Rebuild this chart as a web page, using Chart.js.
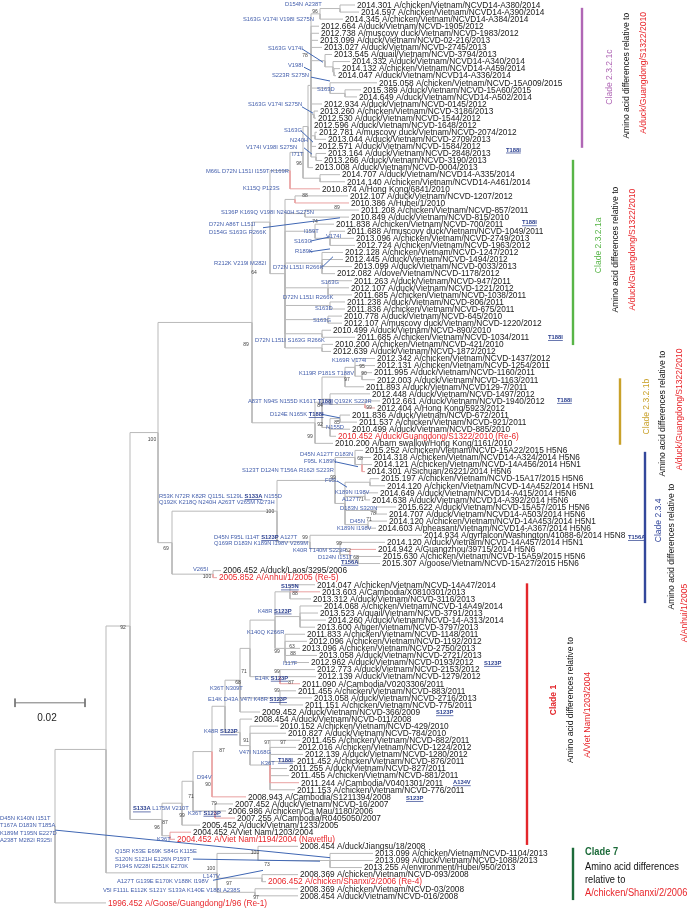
<!DOCTYPE html>
<html><head><meta charset="utf-8">
<script src="https://cdn.jsdelivr.net/npm/chart.js@4"></script>
<style>html,body{margin:0;padding:0;background:#fff}#wrap{width:688px;height:908px}</style>
</head><body><div id="wrap"><canvas id="c" width="688" height="908"></canvas></div>
<script>
// ---------------- DATA ----------------
// Leaf (strain) labels, top to bottom
const leafNames = [
"2014.301 A/chicken/Vietnam/NCVD14-A380/2014","2014.597 A/chicken/Vietnam/NCVD14-A390/2014","2014.345 A/chicken/Vietnam/NCVD14-A384/2014",
"2012.664 A/duck/Vietnam/NCVD-1905/2012","2012.738 A/muscovy duck/Vietnam/NCVD-1983/2012","2013.099 A/duck/Vietnam/NCVD-02-216/2013",
"2013.027 A/duck/Vietnam/NCVD-2745/2013","2013.545 A/quail/Vietnam/NCVD-3794/2013","2014.332 A/duck/Vietnam/NCVD14-A340/2014",
"2014.132 A/chicken/Vietnam/NCVD14-A459/2014","2014.047 A/duck/Vietnam/NCVD14-A336/2014","2015.058 A/chicken/Vietnam/NCVD-15A009/2015",
"2015.389 A/duck/Vietnam/NCVD-15A60/2015","2014.649 A/duck/Vietnam/NCVD14-A502/2014","2012.934 A/duck/Vietnam/NCVD-0145/2012",
"2013.260 A/chicken/Vietnam/NCVD-3186/2013","2012.530 A/duck/Vietnam/NCVD-1544/2012","2012.596 A/duck/Vietnam/NCVD-1648/2012",
"2012.781 A/muscovy duck/Vietnam/NCVD-2074/2012","2013.044 A/duck/Vietnam/NCVD-2709/2013","2012.571 A/duck/Vietnam/NCVD-1584/2012",
"2013.164 A/duck/Vietnam/NCVD-2848/2013","2013.266 A/duck/Vietnam/NCVD-3190/2013","2013.008 A/duck/Vietnam/NCVD-0004/2013",
"2014.707 A/duck/Vietnam/NCVD14-A335/2014","2014.140 A/chicken/Vietnam/NCVD14-A461/2014","2010.874 A/Hong Kong/6841/2010",
"2012.107 A/duck/Vietnam/NCVD-1207/2012","2010.386 A/Hubei/1/2010","2011.208 A/chicken/Vietnam/NCVD-857/2011",
"2010.849 A/duck/Vietnam/NCVD-815/2010","2011.838 A/chicken/Vietnam/NCVD-700/2011","2011.688 A/muscovy duck/Vietnam/NCVD-1049/2011",
"2013.096 A/chicken/Vietnam/NCVD-2749/2013","2012.724 A/chicken/Vietnam/NCVD-1963/2012","2012.128 A/chicken/Vietnam/NCVD-1247/2012",
"2012.445 A/duck/Vietnam/NCVD-1494/2012","2013.099 A/duck/Vietnam/NCVD-0033/2013","2012.082 A/dove/Vietnam/NCVD-1178/2012",
"2011.263 A/duck/Vietnam/NCVD-947/2011","2012.107 A/duck/Vietnam/NCVD-1221/2012","2011.685 A/chicken/Vietnam/NCVD-1038/2011",
"2011.238 A/duck/Vietnam/NCVD-806/2011","2011.836 A/chicken/Vietnam/NCVD-675/2011","2010.778 A/duck/Vietnam/NCVD-645/2010",
"2012.107 A/muscovy duck/Vietnam/NCVD-1220/2012","2010.499 A/duck/Vietnam/NCVD-890/2010","2011.685 A/chicken/Vietnam/NCVD-1034/2011",
"2010.200 A/chicken/Vietnam/NCVD-421/2010","2012.639 A/duck/Vietnam/NCVD-1872/2012","2012.342 A/chicken/Vietnam/NCVD-1437/2012",
"2012.131 A/chicken/Vietnam/NCVD-1254/2011","2011.995 A/duck/Vietnam/NCVD-1160/2011","2012.003 A/duck/Vietnam/NCVD-1163/2011",
"2011.893 A/duck/Vietnam/NCVD129-7/2011","2012.448 A/duck/Vietnam/NCVD-1497/2012","2012.661 A/duck/Vietnam/NCVD-1940/2012",
"2012.404 A/Hong Kong/5923/2012","2011.836 A/duck/Vietnam/NCVD-672/2011","2011.537 A/chicken/Vietnam/NCVD-921/2011",
"2010.499 A/duck/Vietnam/NCVD-885/2010","2010.452 A/duck/Guangdong/S1322/2010 (Re-6)","2010.200 A/barn swallow/Hong Kong/1161/2010",
"2015.252 A/chicken/Vietnam/NCVD-15A22/2015 H5N6","2014.318 A/chicken/Vietnam/NCVD14-A324/2014 H5N6","2014.121 A/chicken/Vietnam/NCVD-14A456/2014 H5N1",
"2014.301 A/Sichuan/26221/2014 H5N6","2015.197 A/chicken/Vietnam/NCVD-15A17/2015 H5N6","2014.120 A/chicken/Vietnam/NCVD-14A452/2014 H5N1",
"2014.649 A/duck/Vietnam/NCVD14-A415/2014 H5N6","2014.638 A/duck/Vietnam/NCVD14-A392/2014 H5N6","2015.622 A/duck/Vietnam/NCVD-15A57/2015 H5N6",
"2014.707 A/duck/Vietnam/NCVD14-A503/2014 H5N6","2014.120 A/chicken/Vietnam/NCVD-14A453/2014 H5N1","2014.603 A/pheasant/Vietnam/NCVD14-A367/2014 H5N6",
"2014.934 A/gyrfalcon/Washington/41088-6/2014 H5N8","2014.120 A/duck/Vietnam/NCVD-14A457/2014 H5N1","2014.942 A/Guangzhou/39715/2014 H5N6",
"2015.630 A/chicken/Vietnam/NCVD-15A59/2015 H5N6","2015.307 A/goose/Vietnam/NCVD-15A27/2015 H5N6","2006.452 A/duck/Laos/3295/2006",
"2005.852 A/Anhui/1/2005 (Re-5)","2014.047 A/chicken/Vietnam/NCVD-14A47/2014","2013.603 A/Cambodia/X0810301/2013",
"2013.312 A/duck/Vietnam/NCVD-3116/2013","2014.068 A/chicken/Vietnam/NCVD-14A49/2014","2013.523 A/quail/Vietnam/NCVD-3791/2013",
"2014.260 A/duck/Vietnam/NCVD-14-A313/2014","2013.600 A/tiger/Vietnam/NCVD-3797/2013","2011.833 A/chicken/Vietnam/NCVD-1148/2011",
"2012.096 A/chicken/Vietnam/NCVD-1192/2012","2013.096 A/chicken/Vietnam/NCVD-2750/2013","2013.058 A/duck/Vietnam/NCVD-2721/2013",
"2012.962 A/duck/Vietnam/NCVD-0193/2012","2012.773 A/duck/Vietnam/NCVD-2153/2012","2012.139 A/duck/Vietnam/NCVD-1279/2012",
"2011.090 A/Cambodia/V0203306/2011","2011.455 A/chicken/Vietnam/NCVD-883/2011","2013.058 A/duck/Vietnam/NCVD-2716/2013",
"2011.151 A/chicken/Vietnam/NCVD-775/2011","2009.452 A/duck/Vietnam/NCVD-366/2009","2008.454 A/duck/Vietnam/NCVD-011/2008",
"2010.152 A/chicken/Vietnam/NCVD-429/2010","2010.827 A/duck/Vietnam/NCVD-784/2010","2011.455 A/chicken/Vietnam/NCVD-882/2011",
"2012.016 A/chicken/Vietnam/NCVD-1224/2012","2012.139 A/duck/Vietnam/NCVD-1280/2012","2011.452 A/chicken/Vietnam/NCVD-876/2011",
"2011.255 A/duck/Vietnam/NCVD-827/2011","2011.455 A/chicken/Vietnam/NCVD-881/2011","2011.244 A/Cambodia/V0401301/2011",
"2011.153 A/chicken/Vietnam/NCVD-776/2011","2008.943 A/Cambodia/S1211394/2008","2007.452 A/duck/Vietnam/NCVD-16/2007",
"2006.986 A/chicken/Ca Mau/1180/2006","2007.255 A/Cambodia/R0405050/2007","2005.452 A/duck/Vietnam/1233/2005",
"2004.452 A/Viet Nam/1203/2004","2004.452 A/Viet Nam/1194/2004 (Navetflu)","2008.454 A/duck/Jiangsu/18/2008",
"2013.099 A/chicken/Vietnam/NCVD-1104/2013","2013.099 A/duck/Vietnam/NCVD-1088/2013","2013.255 A/environment/Hubei/950/2013",
"2008.369 A/chicken/Vietnam/NCVD-093/2008","2006.452 A/chicken/Shanxi/2/2006 (Re-4)","2008.369 A/chicken/Vietnam/NCVD-03/2008",
"2008.454 A/duck/Vietnam/NCVD-016/2008","1996.452 A/Goose/Guangdong/1/96 (Re-1)"
];
// Tip depth of each leaf (tree units; scale bar 0.02 = 70 units)
const leafDepth = [300,304,288,264,264,263,267,277,295,285,281,322,306,302,267,263,261,257,262,271,261,271,267,258,285,290,265,
293,294,304,294,279,290,299,300,288,288,297,280,297,294,297,290,290,287,287,276,300,278,276,
320,320,317,320,309,315,325,320,295,302,295,281,278,
308,316,317,310,324,330,323,315,341,332,332,321,367,330,321,326,325,166,162,
260,265,256,267,263,271,260,250,252,245,262,254,260,261,245,241,257,248,205,197,223,231,245,241,248,240,232,234,244,240,191,178,171,180,145,136,120,
243,318,318,307,243,211,243,243,51];
const leafParent = ["c3b","c3b","c3","c2","c2","c2","c2","c4","c5","c6","c6","c7","c8","c8","c2","c9","c9","c2","c10","c10","c2","c11","c11","c1","c12","c12","NcHK",
"a1","a1","a2","a2","a3","a4","a4","a4","a5","a5","a5","a5","a6","a6","a6","a7","a7","a8","a8","a9","a9","a10","a10",
"b3","b3","b4","b4","b2","b5","b6","b6","b8","b8","b7","b7","Nb",
"d1","d2","d2","d2","d4","d4","d5","d5","d6","d6","d7","d7","N234b","d8","d9","d10","d10","NLA","NLA",
"e8","e8","e8","e9","e9","e9","e9","e10","e10","e10","e10","e10","e11","e11","e11","e12","e12","e12","e5","e13","e14","e14",
"e15","e15","e15","e15","e15","e15","e15","e15","e3","e16","e16","e16","e1","e17","e17",
"f1","f2","f2","f2","f3","f3","f4","f4","R"];
// Internal nodes
const nodeId =     ["R","A","B","N23","N2321","Nca","NcHK","Nc","c1","c2","c3","c3b","c4","c5","c6","c7","c8","c9","c10","c11","c12",
"Na","a1","a2","a3","a4","a5","a6","a7","a8","a9","a10","Nb","b1","b2","b3","b4","b5","b6","b7","b8",
"N234all","N234","N234a","d1","d2","d3","d4","d5","d6","d7","N234b","d8","d9","d10","NLA",
"NC1","e1","e2","e3","e4","e5","e6","e7","e8","e9","e10","e11","e12","e13","e14","e15","e16","e17","NC7","f1","f2","f3","f4"];
const nodeParent = ["","R","A","B","N23","N2321","Nca","NcHK","Nc","c1","c2","c3","c2","c4","c5","c2","c7","c2","c2","c2","Nc",
"Nca","Na","Na","Na","a3","Na","Na","Na","Na","Na","Na","N2321","Nb","b1","b2","b3","b1","b5","b1","b7",
"N23","N234all","N234","N234a","d1","N234a","d3","d3","d3","d3","N234","N234b","d8","d9","N234all",
"B","NC1","e1","e2","e3","e4","e5","e6","e7","e7","e7","e6","e5","e4","e13","e14","e2","NC1","A","NC7","f1","NC7","NC7"];
const nodeDepth = [0,51,75,103,197,215,235,248,253,256,265,285,270,278,279,275,290,259,260,261,265,
230,240,250,260,275,267,273,275,273,267,267,260,267,290,300,307,275,310,275,285,
117,222,280,300,307,290,315,310,321,313,255,285,295,303,158,
107,127,138,157,170,185,195,220,235,245,230,225,225,185,195,215,160,115,162,203,275,207,200];
// Human isolates (pink branches) and reference strains (red labels)
const humanLeaves = [26,28,57,66,77,81,83,96,110,112,115,117,118];
const refLeaves = [61,81,118,124,127];

// Amino acid substitution annotations (x in tree units, y in leaf rows); "_" marks underlined residues
const mutText = ["D154N A238T","S163G V174I V198I S275N","S163G V174I","V198I","S223R S275N","S163D","S163G V174I S275N","S163G","N240H",
"V174I V198I S275N","I71T","_T188I","M66L D72N L151I I159T K169R","K115Q P123S","S136P K169Q V198I N240H S275N","D72N A86T L151I",
"D154G S163G R266K","I159T","V174I","S163G","_T188I","R189K","R212K V219I M282I","D72N L151I R266K","S163G","D72N L151I R266K","S163D",
"S163G","D72N L151I S163G R266K","_T188I","K169R V174I","K119R P181S T188V","A83T N94S N155D K161T _T188I Q192K S223R","_T188I",
"D124E N165K _T188I","N155D","D45N A127T D183N","F95L K189N","S123T D124N T156A R162I S223R","F95L","K189N I198V",
"R53K N72R K82R Q115L S129L _S133A N155D","Q192K K218Q N240H A263T V265M N273H","A127T","D183N S320N","D45N","K189N I198V",
"D45N F95L I114T _S123P A127T","Q169R D183N K189N I198V V269M","K40R T140M S223R","D124N I151T","_T156A","_T156A","V265I","_S155N",
"K48R _S123P","K140Q K266R","I117F","_S123P","E14K _S123P","K36T N309T","E14K D43A V47I K48R _S123P","_S123P","K48R _S123P",
"V47I N168G","K36T","_T188I","D94V","_A134V","_S123P","_S133A L175M V210T","K36T _S123P","K36T","D45N K140N I151T","T167A D183N T185A",
"K189M T195N E227D","A238T M282I R325I","Q15R K53E E69K S84G K115E","S120N S121H E126N P159T","P194S M228I E251K E270K","L147V",
"A127T G139E E170K V188K I198V","V5I F111L E112K S121Y S133A K140E V188I A238S"];
const mutX = [230,188,213,233,217,262,193,229,235,191,237,451,151,188,166,154,154,249,271,239,467,240,159,218,266,228,260,258,200,493,
277,244,193,502,215,271,245,249,187,270,280,104,104,287,285,295,282,159,159,238,263,286,573,138,226,203,192,228,429,200,155,153,381,149,
184,206,223,142,398,351,78,133,102,-55,-55,-55,-55,60,60,60,148,62,48];
const mutRow = [-0.1,2.1,6.2,8.6,10.0,11.9,14.1,17.8,19.1,20.2,21.2,20.5,23.6,26.0,29.4,31.0,32.1,32.0,32.7,33.4,30.8,34.9,36.6,37.1,39.2,
41.3,42.9,44.6,47.5,47.0,50.2,52.1,56.0,55.9,57.9,59.7,63.5,64.6,65.8,67.3,69.0,69.5,70.4,69.9,71.2,73.0,74.0,75.3,76.2,77.2,78.1,78.8,
75.3,79.8,82.3,85.7,88.8,93.1,93.1,95.2,96.6,98.2,100.1,102.8,105.7,107.2,106.8,109.2,110.0,112.2,113.7,114.3,118.0,115.0,116.1,117.1,
118.2,119.7,120.8,121.9,123.2,123.9,125.2];
// Bootstrap support values (label centres)
const bootText = ["96","78","96","88","89","74","64","89","95","90","97","84","99","85","92","99","100","68","99","71","100","78","71","99",
"99","62","68","69","100","88","92","63","99","88","71","99","87","68","99","91","97","97","87","90","71","79","99","87","96","100","100",
"73","97","97"];
const bootX = [260,250,244,250,282,260,199,191,307,309,292,265,314,282,265,255,97,305,278,306,215,318,314,250,284,293,301,111,152,240,68,
237,222,238,189,222,236,183,222,191,212,228,167,153,136,159,127,110,102,200,156,212,174,201];
const bootRow = [1.0,7.2,22.4,27.0,28.6,30.7,37.8,48.1,51.2,52.1,53.0,56.7,56.9,59.0,59.4,61.0,61.5,64.1,66.8,69.9,71.7,72.0,72.8,75.3,
76.2,77.2,78.1,76.9,80.9,83.3,88.0,90.8,91.5,91.8,94.3,94.3,95.9,95.9,97.0,104.1,104.4,104.4,105.4,110.2,111.9,113.0,114.6,115.7,116.4,
119.9,122.1,121.6,124.3,126.2];
// Call-out lines from substitution labels to branches [x1,row1,x2,row2]
const calloutX1 = [247,249,256,247,246,249,208,255,255,267,267,280,282,0,138,158];
const calloutY1 = [6.2,8.8,10.2,14.4,17.8,20.2,31.5,33.4,34.9,37.1,57.9,64.6,67.3,116.7,120.8,123.8];
const calloutX2 = [268,256,275,258,258,257,285,275,275,278,285,303,292,275,265,208];
const calloutY2 = [8.1,9.3,10.75,15.3,19.4,21.1,30.1,32.8,34.5,35.6,58.4,65.3,68.2,120.6,121.1,122.4];
// Clade brackets
const cladeName = ["Clade 2.3.2.1c","Clade 2.3.2.1a","Clade 2.3.2.1b","Clade 2.3.4","Clade 1","Clade 7"];
const cladeRef = ["A/duck/Guangdong/S1322/2010","A/duck/Guangdong/S1322/2010","A/duck/Guangdong/S1322/2010","A/Anhui/1/2005","A/Viet Nam/1203/2004","A/chicken/Shanxi/2/2006"];
const cladeBarX = [527,518,565,590,472,518];
const cladeRowFrom = [0.4,21.9,52.8,63.2,81.8,119.2];
const cladeRowTo = [20.2,48.1,62.2,84.6,118.8,126.6];
const cladeColor = ["#b067b5","#58b548","#c9a12a","#33479b","#e3262b","#1d6b3a"];
// label columns: offset from bar (px) and centre row for [clade name, description, reference]
const cladeColOffset = [[27,44,61],[25,42,59],[26,42,59],[13,26,39],[26,43,60],[12,12,12]];
const cladeColRow = [[10.2,10.0,9.6],[34.0,34.6,34.6],[56.8,57.8,57.2],[72.9,76.6,86.0],[98.3,98.3,100.4],[120.0,122.0,123.9]];
// Scale bar
const scaleBarLength = 70, scaleBarLabel = "0.02", scaleBarX = -40, scaleBarRow = 98.7;

// ---------------- BUILD ----------------
const nIdx = {}; nodeId.forEach((id,i)=>nIdx[id]=i);
const nY = new Array(nodeId.length).fill(null);
function nodeY(i){
  if(nY[i]!==null) return nY[i];
  const ys=[];
  leafParent.forEach((p,j)=>{ if(p===nodeId[i]) ys.push(j); });
  nodeParent.forEach((p,k)=>{ if(p===nodeId[i]) ys.push(nodeY(k)); });
  nY[i]=(Math.min(...ys)+Math.max(...ys))/2; return nY[i];
}
nodeId.forEach((_,i)=>nodeY(i));
const grayPts=[], pinkPts=[];
function branch(arr,px,py,cx,cy){ arr.push({x:px,y:py},{x:px,y:cy},{x:cx,y:cy},{x:NaN,y:NaN}); }
nodeId.forEach((id,i)=>{ if(!nodeParent[i]) return; const p=nIdx[nodeParent[i]]; branch(grayPts,nodeDepth[p],nY[p],nodeDepth[i],nY[i]); });
leafNames.forEach((_,j)=>{ const p=nIdx[leafParent[j]]; branch(humanLeaves.includes(j)?pinkPts:grayPts,nodeDepth[p],nY[p],leafDepth[j],j); });
const calloutPts=[];
calloutX1.forEach((x,i)=>calloutPts.push({x:x,y:calloutY1[i]},{x:calloutX2[i],y:calloutY2[i]},{x:NaN,y:NaN}));
const scalePts=[{x:scaleBarX,y:scaleBarRow-0.6},{x:scaleBarX,y:scaleBarRow+0.6},{x:NaN,y:NaN},
  {x:scaleBarX,y:scaleBarRow},{x:scaleBarX+scaleBarLength,y:scaleBarRow},{x:NaN,y:NaN},
  {x:scaleBarX+scaleBarLength,y:scaleBarRow-0.6},{x:scaleBarX+scaleBarLength,y:scaleBarRow+0.6}];

const LEAF_FONT='8.3px "Liberation Sans"';
const MUT_FONT='5.8px "Liberation Sans"';
const MUT_FONT_B='bold 5.8px "Liberation Sans"';
const BOOT_FONT='5px "Liberation Sans"';

function drawMut(ctx,text,x,y){
  let cx=x;
  text.split(' ').forEach(tok=>{
    const u=tok.startsWith('_'); const t=u?tok.slice(1):tok;
    ctx.font=u?MUT_FONT_B:MUT_FONT;
    ctx.fillStyle=u?'#2a3f8f':'#4560ad';
    ctx.fillText(t,cx,y);
    const w=ctx.measureText(t).width;
    if(u){ ctx.fillRect(cx,y+2.7,w,0.7); }
    ctx.font=MUT_FONT;
    cx+=w+ctx.measureText(' ').width;
  });
}

const labelPlugin={
  id:'labels',
  afterDatasetsDraw(chart){
    const ctx=chart.ctx, xs=chart.scales.x, ys=chart.scales.y;
    ctx.save();
    ctx.textBaseline='middle'; ctx.textAlign='left';
    leafNames.forEach((n,i)=>{
      ctx.font=LEAF_FONT;
      ctx.fillStyle=refLeaves.includes(i)?'#e8262b':'#1a1a1a';
      ctx.fillText(n,xs.getPixelForValue(leafDepth[i])+2,ys.getPixelForValue(i)+0.5);
    });
    mutText.forEach((t,i)=>drawMut(ctx,t,xs.getPixelForValue(mutX[i]),ys.getPixelForValue(mutRow[i])));
    ctx.font=BOOT_FONT; ctx.fillStyle='#444'; ctx.textAlign='center';
    bootText.forEach((t,i)=>ctx.fillText(t,xs.getPixelForValue(bootX[i]),ys.getPixelForValue(bootRow[i])));
    ctx.font='10px "Liberation Sans"'; ctx.fillStyle='#222';
    ctx.fillText(scaleBarLabel,xs.getPixelForValue(scaleBarX+scaleBarLength/2)-3,ys.getPixelForValue(scaleBarRow+2.15));
    cladeName.forEach((name,i)=>{
      const bx=xs.getPixelForValue(cladeBarX[i]);
      ctx.fillStyle=cladeColor[i];
      const y1=ys.getPixelForValue(cladeRowFrom[i]), y2=ys.getPixelForValue(cladeRowTo[i]);
      ctx.fillRect(bx-1.2,y1,2.4,y2-y1);
      const boldName = (name==='Clade 1'||name==='Clade 7');
      const cols=[[name,cladeColor[i],(boldName?'bold ':'')+'9.5px "Liberation Sans"'],
                  ['Amino acid differences relative to','#111','9.5px "Liberation Sans"'],
                  [cladeRef[i],'#e8262b','9.5px "Liberation Sans"']];
      if(name==='Clade 7'){
        const tx=bx+cladeColOffset[i][0];
        const lines=[[name,cladeColor[i],'bold 10px "Liberation Sans"'],['Amino acid differences','#111','10px "Liberation Sans"'],
                     ['relative to','#111','10px "Liberation Sans"'],[cladeRef[i],'#e8262b','10px "Liberation Sans"']];
        const rows=[119.9,121.9,123.8,125.7];
        lines.forEach((l,k)=>{
          ctx.save(); ctx.translate(tx,ys.getPixelForValue(rows[k])); ctx.scale(0.93,1);
          ctx.font=l[2]; ctx.fillStyle=l[1]; ctx.textAlign='left'; ctx.fillText(l[0],0,0); ctx.restore();
        });
      } else {
        cols.forEach((c,k)=>{
          ctx.save(); ctx.translate(bx+cladeColOffset[i][k],ys.getPixelForValue(cladeColRow[i][k])); ctx.rotate(-Math.PI/2);
          ctx.scale(0.9,1);
          ctx.font=c[2]; ctx.fillStyle=c[1]; ctx.textAlign='center'; ctx.fillText(c[0],0,0);
          ctx.restore();
        });
      }
    });
    ctx.restore();
  }
};

new Chart(document.getElementById('c'),{
  type:'scatter',
  data:{datasets:[
    {data:calloutPts,showLine:true,borderColor:'#3f66b3',borderWidth:1,pointRadius:0,spanGaps:false,order:0},
    {data:pinkPts,showLine:true,borderColor:'#e9a1a1',borderWidth:1,pointRadius:0,spanGaps:false,order:1},
    {data:grayPts,showLine:true,borderColor:'#b9b9b9',borderWidth:1,pointRadius:0,spanGaps:false,order:2},
    {data:scalePts,showLine:true,borderColor:'#777',borderWidth:1,pointRadius:0,spanGaps:false,order:3}
  ]},
  options:{
    responsive:false,animation:false,devicePixelRatio:1,
    layout:{padding:0},
    scales:{x:{type:'linear',min:-55,max:633,display:false},y:{type:'linear',min:-0.707,max:127.72,reverse:true,display:false}},
    plugins:{legend:{display:false},tooltip:{enabled:false}},
    elements:{line:{tension:0,borderCapStyle:'butt'}}
  },
  plugins:[labelPlugin]
});
</script></body></html>
